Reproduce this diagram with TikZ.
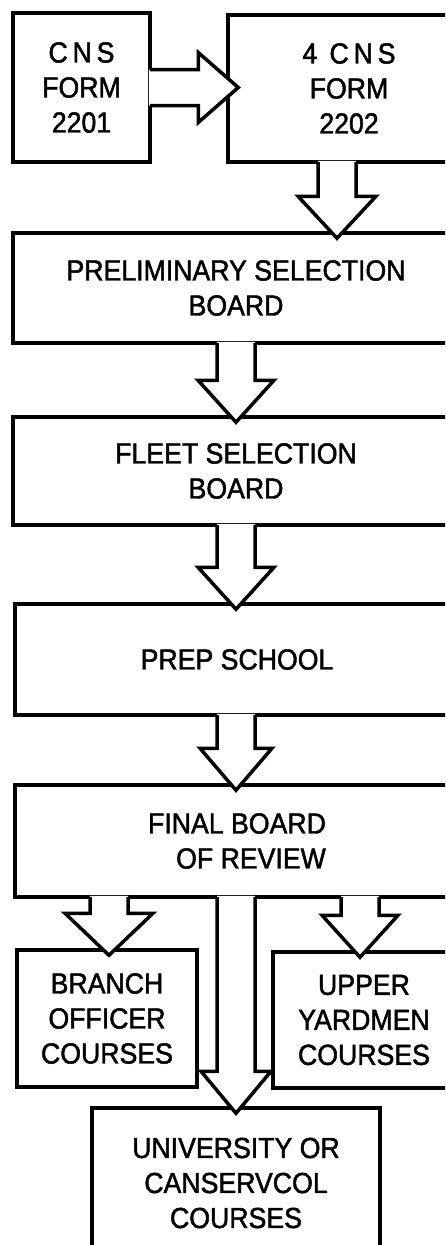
\documentclass[tikz,border=0pt]{standalone}
\usepackage{fontspec}
\setmainfont{Liberation Sans}[FakeStretch=0.92, FakeBold=1.6]
\usetikzlibrary{calc}

\tikzset{
  box/.style={draw, line width=3.5pt, align=center, inner sep=0pt,
    font=\fontsize{29}{35}\selectfont},
  arrowline/.style={line width=3.5pt, line join=miter}
}

% hollow arrow pointing down: [head half width]{from}{to}{x}
\newcommand{\blockdown}[4][38]{%
  \coordinate (ax) at (#4,0);
  \coordinate (tip) at ($(ax |- #3.north)+(0,7)$);
  \coordinate (hd) at ($(tip)+(0,-42)$);
  \coordinate (src) at (ax |- #2.south);
  \fill[white] ($(src)+(-19,-3)$) -- ($(hd)+(-19,0)$) -- ($(hd)+(-#1,0)$) -- (tip)
    -- ($(hd)+(#1,0)$) -- ($(hd)+(19,0)$) -- ($(src)+(19,-3)$) -- cycle;
  \draw[arrowline] ($(src)+(-19,-1.75)$) -- ($(hd)+(-19,0)$) -- ($(hd)+(-#1,0)$) -- (tip)
    -- ($(hd)+(#1,0)$) -- ($(hd)+(19,0)$) -- ($(src)+(19,-1.75)$);
}

\begin{document}
\begin{tikzpicture}[x=1pt,y=-1pt]
            \useasboundingbox (0,0) rectangle (445,1245);
            \clip (0,0) rectangle (445,1245);

            % Forms
            \node[box, minimum width=137, minimum height=149] (f1) at (81.5,87.5) {C\,N\,S\\FORM\\2201};
            \node[box, minimum width=242, minimum height=147] (f2) at (349,88.5) {4 \,C\,N\,S\\FORM\\2202};

            % Boards and school
            \node[box, minimum width=446, minimum height=110] (prelim) at (236,288) {PRELIMINARY SELECTION\\BOARD};
            \node[box, minimum width=446, minimum height=108] (fleet) at (236,471) {FLEET SELECTION\\BOARD};
            \node[box, minimum width=444, minimum height=111] (prep) at (237,659.5) {PREP SCHOOL};
            \node[box, minimum width=444, minimum height=112] (final) at (237,841) {FINAL BOARD\\\hspace*{28pt}OF REVIEW};

            % Courses
            \node[box, minimum width=180, minimum height=137] (branch) at (107,1018.5) {BRANCH\\OFFICER\\COURSES};
            \node[box, minimum width=182, minimum height=136] (upper) at (364,1020) {UPPER\\YARDMEN\\COURSES};
            \node[box, minimum width=288, minimum height=150] (univ) at (236,1183) {UNIVERSITY OR\\CANSERVCOL\\COURSES};

            % Arrow between the forms
            \coordinate (rs) at (f1.east);
            \coordinate (rt) at ($(f2.west |- f1.east)+(12,0)$);
            \fill[white] ($(rs)+(-3,-18)$) -- ($(rt)+(-40,-18)$) -- ($(rt)+(-40,-35)$) -- (rt)
              -- ($(rt)+(-40,35)$) -- ($(rt)+(-40,18)$) -- ($(rs)+(-3,18)$) -- cycle;
            \draw[arrowline] ($(rs)+(-1.75,-18)$) -- ($(rt)+(-40,-18)$) -- ($(rt)+(-40,-35)$) -- (rt)
              -- ($(rt)+(-40,35)$) -- ($(rt)+(-40,18)$) -- ($(rs)+(-1.75,18)$);

            % Arrows down
            \blockdown[39]{f2}{prelim}{337}
            \blockdown{prelim}{fleet}{236}
            \blockdown{fleet}{prep}{236}
            \blockdown[36]{prep}{final}{236}
            \blockdown[44]{final}{branch}{109}
            \blockdown{final}{upper}{360}
            \blockdown[35]{final}{univ}{236}
        \end{tikzpicture}
\end{document}
